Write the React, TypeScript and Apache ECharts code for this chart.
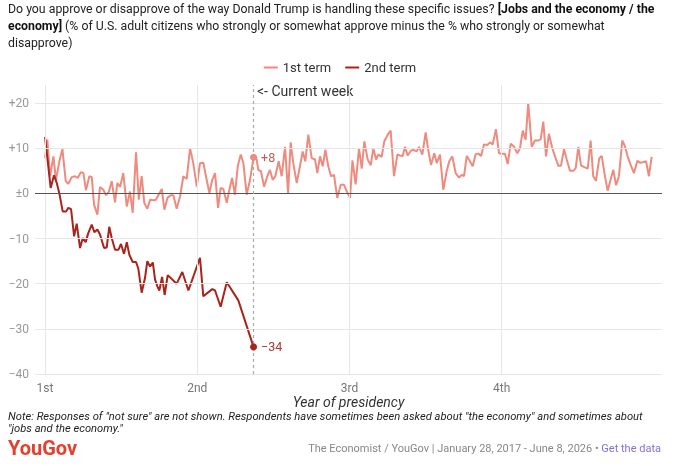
import React, { useEffect, useRef } from "react";
import * as echarts from "echarts";

// ---- Data (years since inauguration, net approval) ----
const yearTickValues = [0, 1, 2, 3];
const yearTickLabels = ["1st", "2nd", "3rd", "4th"];
const yTickValues = [-40, -30, -20, -10, 0, 10, 20];
const currentWeek = 1.37;

const term1Years = [
  0, 0.015, 0.033, 0.055, 0.072, 0.094, 0.114, 0.136, 0.153, 0.175, 0.197, 0.215, 0.235, 0.252, 0.269, 0.291,
  0.307, 0.322, 0.344, 0.361, 0.383, 0.401, 0.42, 0.438, 0.46, 0.475, 0.493, 0.514, 0.537, 0.558, 0.576, 0.598,
  0.616, 0.635, 0.652, 0.672, 0.69, 0.712, 0.729, 0.744, 0.767, 0.784, 0.804, 0.826, 0.843, 0.865, 0.887, 0.909,
  0.931, 0.953, 0.974, 0.997, 1.018, 1.04, 1.062, 1.08, 1.099, 1.117, 1.137, 1.154, 1.171, 1.194, 1.211, 1.229,
  1.248, 1.266, 1.286, 1.303, 1.325, 1.347, 1.37, 1.39, 1.401, 1.419, 1.439, 1.461, 1.478, 1.496, 1.513, 1.535,
  1.555, 1.577, 1.597, 1.614, 1.631, 1.654, 1.675, 1.693, 1.71, 1.73, 1.752, 1.774, 1.789, 1.807, 1.825, 1.842,
  1.861, 1.879, 1.899, 1.92, 1.943, 1.965, 1.982, 2.004, 2.02, 2.041, 2.063, 2.081, 2.098, 2.12, 2.14, 2.157,
  2.175, 2.19, 2.212, 2.229, 2.252, 2.271, 2.293, 2.315, 2.332, 2.35, 2.365, 2.383, 2.405, 2.424, 2.442, 2.457,
  2.479, 2.501, 2.518, 2.536, 2.558, 2.574, 2.595, 2.617, 2.639, 2.656, 2.676, 2.698, 2.72, 2.738, 2.753, 2.771,
  2.792, 2.81, 2.83, 2.847, 2.865, 2.884, 2.906, 2.924, 2.941, 2.963, 2.983, 3.003, 3.022, 3.04, 3.06, 3.081,
  3.103, 3.121, 3.139, 3.158, 3.175, 3.198, 3.219, 3.241, 3.257, 3.274, 3.292, 3.311, 3.333, 3.351, 3.373, 3.39,
  3.41, 3.428, 3.449, 3.471, 3.487, 3.504, 3.522, 3.543, 3.566, 3.585, 3.602, 3.62, 3.642, 3.658, 3.679, 3.697,
  3.719, 3.734, 3.752, 3.771, 3.793, 3.811, 3.828, 3.848, 3.87, 3.892, 3.909, 3.927, 3.949, 3.968, 3.986,
];
const term1Values = [
  7.8, 11.9, 3.8, 8.2, 3.0, 7.1, 9.8, 2.7, 2.1, 3.6, 3.8, 3.4, 4.7, 4.5, 0.7, 3.8,
  3.6, -2.5, -4.7, 1.4, 0.8, -0.4, 0.4, 2.7, -2.0, 2.3, 1.4, 4.5, -2.9, 0.4, -4.3, 9.1,
  -1.4, 3.8, -2.1, -3.4, -1.4, -1.5, -1.4, -0.4, 1.0, -3.6, -1.0, -0.4, -0.4, -3.4, -0.7, 3.8,
  3.2, 10.0, 6.7, 1.5, 6.7, 6.8, 3.0, 0.1, 3.0, 4.5, -3.2, 1.2, 1.0, -2.1, 0.8, 3.4,
  -0.3, 6.0, 8.6, 6.7, -0.3, 3.0, 8, 7.6, 5.2, 4.9, 1.5, 3.8, 5.2, 3.0, 3.8, 7.1,
  3.8, 10.3, 0.1, 11.3, 6.7, 2.3, 6.0, 9.3, 7.1, 13.0, 7.8, 7.5, 4.5, 8.2, 6.0, 9.7,
  6.0, 3.8, 4.1, -1.0, 1.9, 1.9, 0.5, -1.0, 7.3, 2.0, 10.0, 5.5, 11.5, 7.5, 6.2, 10.0,
  7.5, 8.6, 8.1, 11.5, 13.0, 13.9, 3.8, 8.6, 8.4, 8.3, 10.3, 8.4, 9.5, 9.6, 9.3, 10.3,
  8.6, 13.5, 9.6, 6.3, 8.9, 6.7, 8.6, 0.8, 4.9, 7.1, 8.2, 4.5, 3.5, 4.1, 3.8, 8.3,
  7.1, 6.0, 8.7, 8.8, 8.3, 10.8, 10.7, 11.3, 10.8, 14.2, 8.9, 8.8, 8.8, 6.5, 11.0, 10.4,
  8.9, 10.0, 13.9, 11.9, 20.0, 10.3, 11.7, 11.7, 12.0, 15.9, 8.2, 13.2, 10.0, 8.2, 6.1, 6.1,
  9.8, 7.5, 5.0, 5.0, 5.6, 10.3, 6.2, 5.8, 5.5, 11.7, 3.8, 2.8, 7.8, 8.3, 3.8, 0.6,
  3.4, 5.2, 1.8, 3.8, 11.7, 10.4, 8.2, 6.3, 4.5, 7.2, 6.8, 6.9, 7.1, 3.8, 8.1,
];

const term2Years = [
  0, 0.037, 0.059, 0.077, 0.094, 0.116, 0.138, 0.153, 0.171, 0.191, 0.208, 0.23, 0.248, 0.267, 0.284, 0.307,
  0.324, 0.344, 0.361, 0.388, 0.405, 0.422, 0.438, 0.46, 0.482, 0.499, 0.519, 0.537, 0.554, 0.576, 0.598, 0.613,
  0.635, 0.657, 0.672, 0.69, 0.708, 0.723, 0.738, 0.751, 0.769, 0.786, 0.806, 0.865, 0.902, 0.942, 1.018, 1.04,
  1.099, 1.117, 1.154, 1.194, 1.27, 1.37,
];
const term2Values = [
  12.5, 1.2, 4.0, 2.3, 0, -4.0, -4.0, -3.2, -3.5, -9.5, -6.7, -12.1, -9.9, -10.8, -8.8, -6.9,
  -8.6, -8.0, -9.1, -12.1, -12.0, -7.4, -9.9, -12.5, -12.5, -11.2, -13.4, -10.8, -13.6, -15.2, -15.2, -16.7,
  -22.0, -18.7, -15.0, -16.2, -15.3, -19.1, -20.6, -21.5, -18.5, -22.5, -18.1, -20.0, -17.4, -21.5, -14.3, -22.8,
  -21.2, -21.5, -25.1, -19.7, -23.7, -34,
];

const seriesNames = ["1st term", "2nd term"];
const seriesColors = ["#ee8b7e", "#a8241c"];

const FONT = "Roboto, 'Noto Sans', sans-serif";

function fmtSigned(v: number): string {
  if (v === 0) return "±0";
  return v > 0 ? "+" + v : "\u2212" + Math.abs(v);
}

export default function App() {
  const ref = useRef<HTMLDivElement>(null);

  useEffect(() => {
    if (!ref.current) return;
    const chart = echarts.init(ref.current, undefined, { renderer: "svg" });

    const t1 = term1Years.map((x, i) => [x, term1Values[i]]);
    const t2 = term2Years.map((x, i) => [x, term2Values[i]]);
    const idx1 = term1Years.indexOf(currentWeek);
    const p1 = t1[idx1];
    const p2 = t2[t2.length - 1];

    const gridLineStyle = { color: "#e6e6e6", width: 1, type: "solid" as const };

    chart.setOption({
      animation: false,
      textStyle: { fontFamily: FONT },
      grid: { left: 35, right: 18, top: 85, bottom: 92, containLabel: false },
      legend: {
        data: seriesNames,
        top: 56,
        left: "center",
        icon: "rect",
        itemWidth: 14,
        itemHeight: 2,
        itemGap: 14,
        textStyle: { fontSize: 13, color: "#333", fontFamily: FONT },
      },
      xAxis: {
        type: "value",
        min: -0.066,
        max: 4.054,
        splitLine: { show: false },
        axisLine: { show: false },
        axisTick: {
          show: true,
          customValues: yearTickValues,
          length: 6,
          lineStyle: { color: "#e6e6e6" },
        },
        axisLabel: {
          customValues: yearTickValues,
          formatter: (v: number) => yearTickLabels[yearTickValues.indexOf(Math.round(v))] ?? "",
          color: "#777",
          fontSize: 12,
          margin: 8,
          fontFamily: FONT,
        },
        name: "Year of presidency",
        nameLocation: "middle",
        nameGap: 21,
        nameMoveOverlap: false,
        nameTextStyle: { fontSize: 14, fontStyle: "italic", color: "#333", fontFamily: FONT },
      },
      yAxis: {
        type: "value",
        min: -40,
        max: 24,
        splitLine: { show: false },
        axisLine: { show: false },
        axisTick: { show: false },
        axisLabel: {
          customValues: yTickValues,
          formatter: (v: number) => fmtSigned(v),
          color: "#999",
          fontSize: 12,
          margin: 6,
          fontFamily: FONT,
        },
      },
      series: [
        {
          name: "grid",
          type: "line",
          data: [],
          z: 1,
          silent: true,
          markLine: {
            silent: true,
            symbol: ["none", "none"],
            label: { show: false },
            data: [
              ...yTickValues.filter((v) => v !== 0).map((v) => ({ yAxis: v, lineStyle: gridLineStyle })),
              ...yearTickValues.map((v) => ({ xAxis: v, lineStyle: gridLineStyle })),
              { yAxis: 0, lineStyle: { color: "#555", width: 1.2, type: "solid" } },
              { xAxis: currentWeek, lineStyle: { color: "#aaa", width: 1.2, type: [3, 3] } },
            ],
          },
        },
        {
          name: seriesNames[0],
          type: "line",
          data: t1,
          z: 3,
          showSymbol: false,
          symbol: "none",
          color: seriesColors[0],
          lineStyle: { width: 2, color: seriesColors[0] },
          markPoint: {
            symbol: "circle",
            symbolSize: 7,
            itemStyle: { color: seriesColors[0] },
            label: {
              show: true,
              position: "right",
              distance: 4,
              formatter: () => fmtSigned(p1[1]),
              color: "#b0645c",
              fontSize: 12.5,
              fontFamily: FONT,
            },
            data: [{ coord: p1 }],
          },
        },
        {
          name: seriesNames[1],
          type: "line",
          data: t2,
          z: 4,
          showSymbol: false,
          symbol: "none",
          color: seriesColors[1],
          lineStyle: { width: 2, color: seriesColors[1] },
          markPoint: {
            symbol: "circle",
            symbolSize: 7,
            itemStyle: { color: seriesColors[1] },
            label: {
              show: true,
              position: "right",
              distance: 4,
              formatter: () => fmtSigned(p2[1]),
              color: "#b0372c",
              fontSize: 12.5,
              fontFamily: FONT,
            },
            data: [{ coord: p2 }],
          },
        },
      ],
      graphic: [
        {
          type: "text",
          x: 8,
          y: 9,
          style: {
            text: "Do you approve or disapprove of the way Donald Trump is handling these specific issues? {b|[Jobs and the economy / the}",
            fontSize: 12.3,
            fontFamily: FONT,
            fill: "#222",
            verticalAlign: "middle",
            rich: { b: { fontWeight: "bold", fontSize: 12.3, fontFamily: FONT, fill: "#111" } },
          },
        },
        {
          type: "text",
          x: 8,
          y: 26,
          style: {
            text: "{b|economy]} (% of U.S. adult citizens who strongly or somewhat approve minus the % who strongly or somewhat",
            fontSize: 12.3,
            fontFamily: FONT,
            fill: "#222",
            verticalAlign: "middle",
            rich: { b: { fontWeight: "bold", fontSize: 12.3, fontFamily: FONT, fill: "#111" } },
          },
        },
        {
          type: "text",
          x: 8,
          y: 43,
          style: { text: "disapprove)", fontSize: 12.3, fontFamily: FONT, fill: "#222", verticalAlign: "middle" },
        },
        {
          type: "text",
          x: 257,
          y: 91,
          style: { text: "<- Current week", fontSize: 14, fontFamily: FONT, fill: "#333", verticalAlign: "middle" },
        },
        {
          type: "text",
          x: 8,
          y: 416,
          style: {
            text: 'Note: Responses of "not sure" are not shown. Respondents have sometimes been asked about "the economy" and sometimes about',
            fontSize: 11.2,
            fontStyle: "italic",
            fontFamily: FONT,
            fill: "#222",
            verticalAlign: "middle",
          },
        },
        {
          type: "text",
          x: 8,
          y: 428,
          style: {
            text: '"jobs and the economy."',
            fontSize: 11.2,
            fontStyle: "italic",
            fontFamily: FONT,
            fill: "#222",
            verticalAlign: "middle",
          },
        },
        {
          type: "text",
          x: 8,
          y: 448,
          style: {
            text: "YouGov",
            fontSize: 20,
            fontWeight: "bold",
            fontFamily: FONT,
            fill: "#e2412f",
            verticalAlign: "middle",
          },
        },
        {
          type: "text",
          x: 661,
          y: 448,
          style: {
            text: "The Economist / YouGov | January 28, 2017 - June 8, 2026 \u2022 {l|Get the data}",
            fontSize: 11,
            fontFamily: FONT,
            fill: "#888",
            align: "right",
            verticalAlign: "middle",
            rich: { l: { fontSize: 11, fontFamily: FONT, fill: "#7d74d4" } },
          },
        },
      ],
    });

    return () => chart.dispose();
  }, []);

  return <div ref={ref} style={{ position: "fixed", left: 0, top: 0, width: 680, height: 466 }} />;
}
